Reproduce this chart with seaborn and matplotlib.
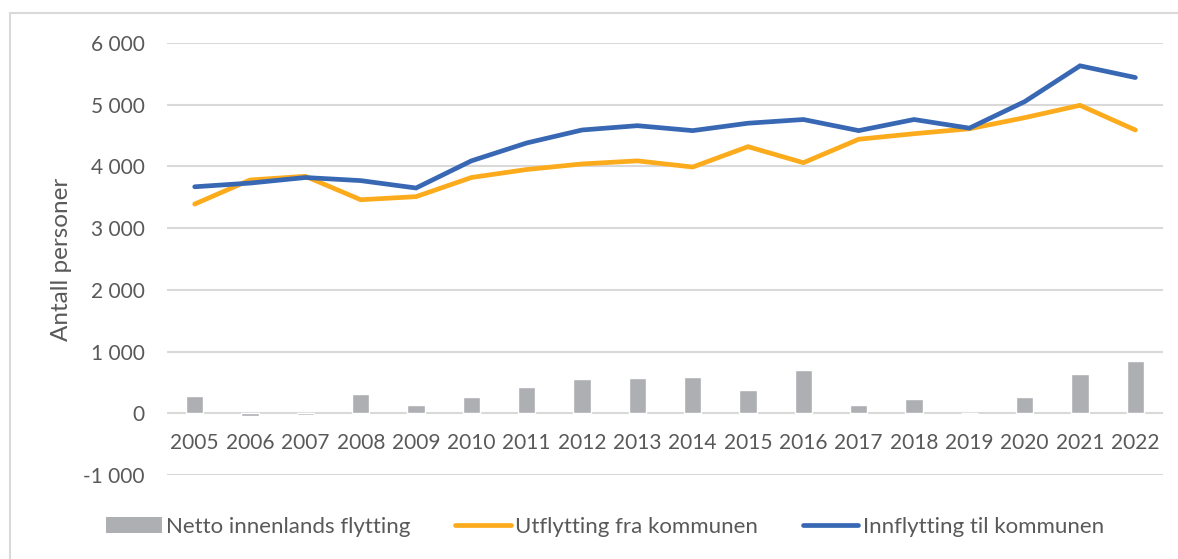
import matplotlib
matplotlib.use("Agg")
import matplotlib.pyplot as plt
from matplotlib.patches import Rectangle
from matplotlib.lines import Line2D
from matplotlib.ticker import FuncFormatter, MultipleLocator
import numpy as np
import pandas as pd
import seaborn as sns

# Flyttestatistikk per år
years = [str(y) for y in range(2005, 2023)]
netto = [280, -50, -20, 310, 140, 270, 430, 550, 570, 590, 380, 700, 140, 230, 0, 260, 640, 850]
utflytting = [3390, 3780, 3840, 3460, 3510, 3820, 3950, 4040, 4090, 3990, 4320, 4060,
              4440, 4530, 4610, 4790, 4990, 4590]
innflytting = [3670, 3730, 3820, 3770, 3650, 4090, 4380, 4590, 4660, 4580, 4700, 4760,
               4580, 4760, 4620, 5050, 5630, 5440]

label_bar = "Netto innenlands flytting"
label_ut = "Utflytting fra kommunen"
label_inn = "Innflytting til kommunen"

GRAY = "#AEAFB2"
ORANGE = "#FCAB1D"
BLUE = "#3868B3"
TEXT = "#595959"
GRID = "#D9D9D9"

sns.set_theme(style="white")
plt.rcParams["font.family"] = ["Lato", "DejaVu Sans"]

df = pd.DataFrame({"år": years, "netto": netto, "ut": utflytting, "inn": innflytting})

fig = plt.figure(figsize=(11.78, 5.59), dpi=100)
ax = fig.add_axes([0.1418, 0.1503, 0.8455, 0.7728])

sns.barplot(data=df, x="år", y="netto", color=GRAY, width=0.31, saturation=1,
            ax=ax, zorder=2)
sns.lineplot(data=df, x="år", y="ut", color=ORANGE, linewidth=3.4, ax=ax, zorder=3,
             solid_capstyle="round", solid_joinstyle="miter")
sns.lineplot(data=df, x="år", y="inn", color=BLUE, linewidth=3.4, ax=ax, zorder=4,
             solid_capstyle="round", solid_joinstyle="miter")

ax.set_ylim(-1000, 6000)
ax.set_xlim(-0.5, len(years) - 0.5)
ax.yaxis.set_major_locator(MultipleLocator(1000))
ax.yaxis.set_major_formatter(FuncFormatter(lambda v, p: f"{v:,.0f}".replace(",", " ")))
ax.grid(axis="y", color=GRID, linewidth=1.5, zorder=0)
ax.set_axisbelow(True)

for side in ["top", "right", "left"]:
    ax.spines[side].set_visible(False)
ax.spines["bottom"].set_position(("data", 0))
ax.spines["bottom"].set_visible(False)

ax.tick_params(axis="both", length=0, labelsize=15, labelcolor=TEXT)
ax.tick_params(axis="y", pad=16)
ax.tick_params(axis="x", pad=14)
ax.set_xlabel("")
ax.set_ylabel("Antall personer", fontsize=17.5, color=TEXT, labelpad=8)

handles = [
    Rectangle((0, 0), 1, 1, facecolor=GRAY, edgecolor="none"),
    Line2D([], [], color=ORANGE, linewidth=3.4, solid_capstyle="round"),
    Line2D([], [], color=BLUE, linewidth=3.4, solid_capstyle="round"),
]
leg = fig.legend(handles, [label_bar, label_ut, label_inn], loc="center",
                 bbox_to_anchor=(0.5136, 0.058), ncol=3, frameon=False,
                 fontsize=16, handlelength=2.5, handleheight=0.7,
                 handletextpad=0.2, columnspacing=2.0)
for t in leg.get_texts():
    t.set_color(TEXT)

# chart area frame
fig.patches.append(Rectangle((10 / 1178, -0.1), 1.0, 1 - 13 / 559 + 0.1,
                             transform=fig.transFigure, fill=False,
                             edgecolor=GRID, linewidth=1.5))

fig.savefig("out.png", dpi=100)
